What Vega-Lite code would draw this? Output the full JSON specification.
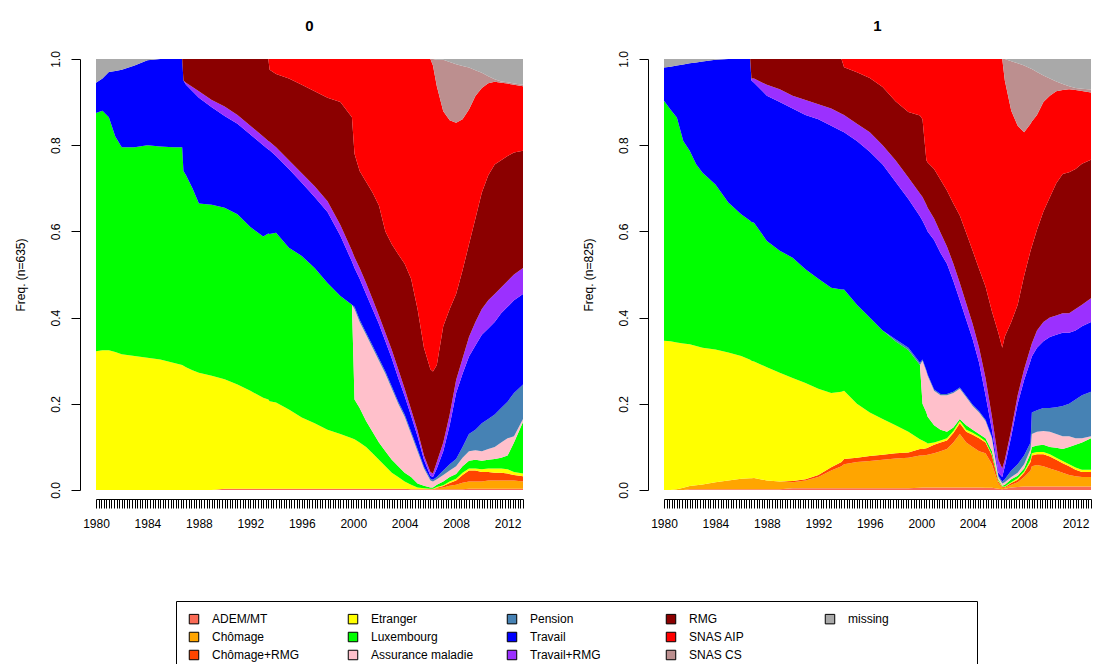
{
"$schema": "https://vega.github.io/schema/vega-lite/v6.json",
"background": "white",
"padding": {"left": 14, "top": 18, "right": 0, "bottom": 0},
"spacing": 58,
"data": {"values": [
{"p":0,"t":1980,"a":0,"b":0,"c":0,"d":0.322,"e":0.553,"f":0,"g":0,"h":0.07,"i":0,"j":0,"k":0,"l":0,"m":0.055},
{"p":0,"t":1980.5,"a":0,"b":0,"c":0,"d":0.324,"e":0.556,"f":0,"g":0,"h":0.075,"i":0,"j":0,"k":0,"l":0,"m":0.045},
{"p":0,"t":1981,"a":0,"b":0,"c":0,"d":0.324,"e":0.541,"f":0,"g":0,"h":0.105,"i":0,"j":0,"k":0,"l":0,"m":0.03},
{"p":0,"t":1981.5,"a":0,"b":0,"c":0,"d":0.32,"e":0.5,"f":0,"g":0,"h":0.152,"i":0,"j":0,"k":0,"l":0,"m":0.028},
{"p":0,"t":1982,"a":0,"b":0,"c":0,"d":0.315,"e":0.48,"f":0,"g":0,"h":0.18,"i":0,"j":0,"k":0,"l":0,"m":0.025},
{"p":0,"t":1983,"a":0,"b":0,"c":0,"d":0.311,"e":0.484,"f":0,"g":0,"h":0.19,"i":0,"j":0,"k":0,"l":0,"m":0.015},
{"p":0,"t":1984,"a":0,"b":0,"c":0,"d":0.307,"e":0.493,"f":0,"g":0,"h":0.197,"i":0,"j":0,"k":0,"l":0,"m":0.003},
{"p":0,"t":1985,"a":0,"b":0,"c":0,"d":0.303,"e":0.494,"f":0,"g":0,"h":0.203,"i":0,"j":0,"k":0,"l":0,"m":0},
{"p":0,"t":1986,"a":0,"b":0,"c":0,"d":0.295,"e":0.5,"f":0,"g":0,"h":0.205,"i":0,"j":0,"k":0,"l":0,"m":0},
{"p":0,"t":1986.7,"a":0,"b":0,"c":0,"d":0.29,"e":0.505,"f":0,"g":0,"h":0.205,"i":0,"j":0,"k":0,"l":0,"m":0},
{"p":0,"t":1986.8,"a":0,"b":0,"c":0,"d":0.288,"e":0.452,"f":0,"g":0,"h":0.21,"i":0,"j":0.05,"k":0,"l":0,"m":0},
{"p":0,"t":1987,"a":0,"b":0,"c":0,"d":0.285,"e":0.445,"f":0,"g":0,"h":0.21,"i":0.005,"j":0.055,"k":0,"l":0,"m":0},
{"p":0,"t":1987.5,"a":0,"b":0,"c":0,"d":0.278,"e":0.422,"f":0,"g":0,"h":0.225,"i":0.01,"j":0.065,"k":0,"l":0,"m":0},
{"p":0,"t":1988,"a":0,"b":0,"c":0,"d":0.272,"e":0.393,"f":0,"g":0,"h":0.245,"i":0.015,"j":0.075,"k":0,"l":0,"m":0},
{"p":0,"t":1989,"a":0,"b":0,"c":0,"d":0.265,"e":0.397,"f":0,"g":0,"h":0.226,"i":0.017,"j":0.095,"k":0,"l":0,"m":0},
{"p":0,"t":1990,"a":0.003,"b":0,"c":0,"d":0.254,"e":0.398,"f":0,"g":0,"h":0.213,"i":0.022,"j":0.11,"k":0,"l":0,"m":0},
{"p":0,"t":1991,"a":0.003,"b":0,"c":0,"d":0.242,"e":0.395,"f":0,"g":0,"h":0.21,"i":0.02,"j":0.13,"k":0,"l":0,"m":0},
{"p":0,"t":1992,"a":0.003,"b":0,"c":0,"d":0.227,"e":0.38,"f":0,"g":0,"h":0.215,"i":0.02,"j":0.155,"k":0,"l":0,"m":0},
{"p":0,"t":1993,"a":0.003,"b":0,"c":0,"d":0.211,"e":0.374,"f":0,"g":0,"h":0.212,"i":0.02,"j":0.18,"k":0,"l":0,"m":0},
{"p":0,"t":1993.4,"a":0.003,"b":0,"c":0,"d":0.207,"e":0.385,"f":0,"g":0,"h":0.195,"i":0.02,"j":0.19,"k":0,"l":0,"m":0},
{"p":0,"t":1993.5,"a":0.003,"b":0,"c":0,"d":0.203,"e":0.388,"f":0,"g":0,"h":0.194,"i":0.02,"j":0.167,"k":0.025,"l":0,"m":0},
{"p":0,"t":1994,"a":0.003,"b":0,"c":0,"d":0.2,"e":0.394,"f":0,"g":0,"h":0.178,"i":0.02,"j":0.17,"k":0.035,"l":0,"m":0},
{"p":0,"t":1995,"a":0.003,"b":0,"c":0,"d":0.184,"e":0.375,"f":0,"g":0,"h":0.183,"i":0.02,"j":0.19,"k":0.045,"l":0,"m":0},
{"p":0,"t":1996,"a":0.003,"b":0,"c":0,"d":0.165,"e":0.375,"f":0,"g":0,"h":0.17,"i":0.022,"j":0.205,"k":0.06,"l":0,"m":0},
{"p":0,"t":1997,"a":0.003,"b":0,"c":0,"d":0.152,"e":0.36,"f":0,"g":0,"h":0.165,"i":0.025,"j":0.22,"k":0.075,"l":0,"m":0},
{"p":0,"t":1998,"a":0.003,"b":0,"c":0,"d":0.137,"e":0.34,"f":0,"g":0,"h":0.165,"i":0.025,"j":0.24,"k":0.09,"l":0,"m":0},
{"p":0,"t":1999,"a":0.003,"b":0,"c":0,"d":0.127,"e":0.32,"f":0,"g":0,"h":0.14,"i":0.025,"j":0.285,"k":0.1,"l":0,"m":0},
{"p":0,"t":1999.9,"a":0.003,"b":0,"c":0,"d":0.117,"e":0.31,"f":0,"g":0,"h":0.1,"i":0.025,"j":0.31,"k":0.135,"l":0,"m":0},
{"p":0,"t":2000.1,"a":0.003,"b":0,"c":0,"d":0.115,"e":0.092,"f":0.21,"g":0.005,"h":0.09,"i":0.025,"j":0.24,"k":0.22,"l":0,"m":0},
{"p":0,"t":2000.5,"a":0.003,"b":0,"c":0,"d":0.107,"e":0.08,"f":0.2,"g":0.005,"h":0.095,"i":0.025,"j":0.225,"k":0.26,"l":0,"m":0},
{"p":0,"t":2001,"a":0.003,"b":0,"c":0,"d":0.097,"e":0.06,"f":0.2,"g":0.005,"h":0.09,"i":0.025,"j":0.235,"k":0.285,"l":0,"m":0},
{"p":0,"t":2001.5,"a":0.003,"b":0,"c":0,"d":0.082,"e":0.05,"f":0.195,"g":0.005,"h":0.085,"i":0.023,"j":0.247,"k":0.31,"l":0,"m":0},
{"p":0,"t":2002,"a":0.003,"b":0,"c":0,"d":0.067,"e":0.04,"f":0.19,"g":0.005,"h":0.08,"i":0.02,"j":0.255,"k":0.34,"l":0,"m":0},
{"p":0,"t":2002.5,"a":0.003,"b":0,"c":0,"d":0.052,"e":0.035,"f":0.18,"g":0.005,"h":0.07,"i":0.02,"j":0.235,"k":0.4,"l":0,"m":0},
{"p":0,"t":2003,"a":0.003,"b":0,"c":0,"d":0.037,"e":0.03,"f":0.165,"g":0.005,"h":0.065,"i":0.02,"j":0.245,"k":0.43,"l":0,"m":0},
{"p":0,"t":2003.5,"a":0.003,"b":0,"c":0,"d":0.027,"e":0.025,"f":0.145,"g":0.005,"h":0.055,"i":0.02,"j":0.267,"k":0.453,"l":0,"m":0},
{"p":0,"t":2004,"a":0.003,"b":0,"c":0,"d":0.017,"e":0.02,"f":0.13,"g":0.005,"h":0.043,"i":0.017,"j":0.29,"k":0.475,"l":0,"m":0},
{"p":0,"t":2004.5,"a":0.002,"b":0,"c":0,"d":0.01,"e":0.018,"f":0.1,"g":0.005,"h":0.037,"i":0.015,"j":0.303,"k":0.51,"l":0,"m":0},
{"p":0,"t":2005,"a":0.002,"b":0,"c":0,"d":0.004,"e":0.009,"f":0.075,"g":0.005,"h":0.03,"i":0.013,"j":0.282,"k":0.58,"l":0,"m":0},
{"p":0,"t":2005.5,"a":0.002,"b":0,"c":0,"d":0.002,"e":0.006,"f":0.04,"g":0.004,"h":0.016,"i":0.01,"j":0.25,"k":0.67,"l":0,"m":0},
{"p":0,"t":2006,"a":0.002,"b":0,"c":0,"d":0.001,"e":0.003,"f":0.016,"g":0.004,"h":0.007,"i":0.009,"j":0.238,"k":0.72,"l":0,"m":0},
{"p":0,"t":2006.2,"a":0.002,"b":0,"c":0,"d":0.001,"e":0.003,"f":0.014,"g":0.004,"h":0.006,"i":0.008,"j":0.237,"k":0.71,"l":0.015,"m":0},
{"p":0,"t":2006.5,"a":0.002,"b":0.002,"c":0.001,"d":0.002,"e":0.005,"f":0.013,"g":0.005,"h":0.02,"i":0.015,"j":0.225,"k":0.647,"l":0.061,"m":0.002},
{"p":0,"t":2007,"a":0.002,"b":0.004,"c":0.003,"d":0.002,"e":0.009,"f":0.015,"g":0.01,"h":0.045,"i":0.02,"j":0.27,"k":0.499,"l":0.119,"m":0.002},
{"p":0,"t":2007.5,"a":0.002,"b":0.008,"c":0.006,"d":0.004,"e":0.01,"f":0.015,"g":0.015,"h":0.09,"i":0.025,"j":0.245,"k":0.438,"l":0.135,"m":0.007},
{"p":0,"t":2008,"a":0.002,"b":0.01,"c":0.01,"d":0.004,"e":0.011,"f":0.018,"g":0.017,"h":0.153,"i":0.03,"j":0.2,"k":0.397,"l":0.136,"m":0.012},
{"p":0,"t":2008.5,"a":0.002,"b":0.015,"c":0.018,"d":0.005,"e":0.015,"f":0.02,"g":0.025,"h":0.17,"i":0.035,"j":0.205,"k":0.35,"l":0.124,"m":0.016},
{"p":0,"t":2009,"a":0.003,"b":0.017,"c":0.025,"d":0.005,"e":0.018,"f":0.022,"g":0.04,"h":0.18,"i":0.045,"j":0.215,"k":0.313,"l":0.097,"m":0.02},
{"p":0,"t":2009.5,"a":0.003,"b":0.017,"c":0.025,"d":0.005,"e":0.02,"f":0.022,"g":0.048,"h":0.195,"i":0.055,"j":0.24,"k":0.284,"l":0.06,"m":0.026},
{"p":0,"t":2010,"a":0.003,"b":0.017,"c":0.022,"d":0.006,"e":0.02,"f":0.022,"g":0.065,"h":0.205,"i":0.06,"j":0.27,"k":0.243,"l":0.035,"m":0.032},
{"p":0,"t":2010.5,"a":0.003,"b":0.019,"c":0.02,"d":0.008,"e":0.02,"f":0.025,"g":0.07,"h":0.21,"i":0.065,"j":0.29,"k":0.214,"l":0.016,"m":0.04},
{"p":0,"t":2011,"a":0.003,"b":0.019,"c":0.018,"d":0.01,"e":0.022,"f":0.028,"g":0.075,"h":0.215,"i":0.065,"j":0.3,"k":0.192,"l":0.006,"m":0.047},
{"p":0,"t":2011.5,"a":0.003,"b":0.019,"c":0.018,"d":0.01,"e":0.025,"f":0.035,"g":0.08,"h":0.22,"i":0.06,"j":0.295,"k":0.18,"l":0.003,"m":0.052},
{"p":0,"t":2012,"a":0.003,"b":0.019,"c":0.016,"d":0.01,"e":0.032,"f":0.04,"g":0.085,"h":0.22,"i":0.06,"j":0.29,"k":0.168,"l":0.003,"m":0.054},
{"p":0,"t":2012.5,"a":0.003,"b":0.019,"c":0.013,"d":0.007,"e":0.068,"f":0.015,"g":0.1,"h":0.215,"i":0.06,"j":0.283,"k":0.157,"l":0.003,"m":0.057},
{"p":0,"t":2013.2,"a":0.003,"b":0.017,"c":0.012,"d":0.006,"e":0.12,"f":0.007,"g":0.08,"h":0.21,"i":0.06,"j":0.272,"k":0.15,"l":0.003,"m":0.06},
{"p":1,"t":1980,"a":0,"b":0,"c":0,"d":0.346,"e":0.557,"f":0,"g":0,"h":0.077,"i":0,"j":0,"k":0,"l":0,"m":0.02},
{"p":1,"t":1980.5,"a":0,"b":0,"c":0,"d":0.345,"e":0.538,"f":0,"g":0,"h":0.099,"i":0,"j":0,"k":0,"l":0,"m":0.018},
{"p":1,"t":1981,"a":0,"b":0.002,"c":0,"d":0.34,"e":0.522,"f":0,"g":0,"h":0.121,"i":0,"j":0,"k":0,"l":0,"m":0.015},
{"p":1,"t":1981.5,"a":0,"b":0.005,"c":0,"d":0.335,"e":0.47,"f":0,"g":0,"h":0.177,"i":0,"j":0,"k":0,"l":0,"m":0.013},
{"p":1,"t":1982,"a":0.002,"b":0.007,"c":0,"d":0.329,"e":0.449,"f":0,"g":0,"h":0.203,"i":0,"j":0,"k":0,"l":0,"m":0.01},
{"p":1,"t":1982.5,"a":0.002,"b":0.009,"c":0,"d":0.323,"e":0.422,"f":0,"g":0,"h":0.236,"i":0,"j":0,"k":0,"l":0,"m":0.008},
{"p":1,"t":1983,"a":0.002,"b":0.011,"c":0,"d":0.317,"e":0.406,"f":0,"g":0,"h":0.258,"i":0,"j":0,"k":0,"l":0,"m":0.006},
{"p":1,"t":1984,"a":0.002,"b":0.016,"c":0,"d":0.308,"e":0.383,"f":0,"g":0,"h":0.289,"i":0,"j":0,"k":0,"l":0,"m":0.002},
{"p":1,"t":1985,"a":0.002,"b":0.02,"c":0,"d":0.297,"e":0.348,"f":0,"g":0,"h":0.333,"i":0,"j":0,"k":0,"l":0,"m":0},
{"p":1,"t":1986,"a":0.002,"b":0.024,"c":0,"d":0.285,"e":0.329,"f":0,"g":0,"h":0.36,"i":0,"j":0,"k":0,"l":0,"m":0},
{"p":1,"t":1986.7,"a":0.002,"b":0.025,"c":0,"d":0.275,"e":0.323,"f":0,"g":0,"h":0.375,"i":0,"j":0,"k":0,"l":0,"m":0},
{"p":1,"t":1986.8,"a":0.002,"b":0.025,"c":0,"d":0.273,"e":0.322,"f":0,"g":0,"h":0.328,"i":0.005,"j":0.045,"k":0,"l":0,"m":0},
{"p":1,"t":1987,"a":0.002,"b":0.026,"c":0,"d":0.27,"e":0.322,"f":0,"g":0,"h":0.325,"i":0.01,"j":0.045,"k":0,"l":0,"m":0},
{"p":1,"t":1988,"a":0.002,"b":0.02,"c":0,"d":0.263,"e":0.293,"f":0,"g":0,"h":0.337,"i":0.025,"j":0.06,"k":0,"l":0,"m":0},
{"p":1,"t":1989,"a":0.002,"b":0.018,"c":0,"d":0.252,"e":0.283,"f":0,"g":0,"h":0.345,"i":0.03,"j":0.07,"k":0,"l":0,"m":0},
{"p":1,"t":1990,"a":0.004,"b":0.014,"c":0.003,"d":0.239,"e":0.279,"f":0,"g":0,"h":0.346,"i":0.03,"j":0.085,"k":0,"l":0,"m":0},
{"p":1,"t":1991,"a":0.004,"b":0.018,"c":0.003,"d":0.223,"e":0.264,"f":0,"g":0,"h":0.358,"i":0.035,"j":0.095,"k":0,"l":0,"m":0},
{"p":1,"t":1992,"a":0.004,"b":0.026,"c":0.005,"d":0.2,"e":0.255,"f":0,"g":0,"h":0.37,"i":0.035,"j":0.105,"k":0,"l":0,"m":0},
{"p":1,"t":1993,"a":0.004,"b":0.041,"c":0.008,"d":0.172,"e":0.244,"f":0,"g":0,"h":0.376,"i":0.04,"j":0.115,"k":0,"l":0,"m":0},
{"p":1,"t":1993.8,"a":0.004,"b":0.051,"c":0.01,"d":0.163,"e":0.237,"f":0,"g":0,"h":0.368,"i":0.04,"j":0.127,"k":0,"l":0,"m":0},
{"p":1,"t":1994,"a":0.004,"b":0.056,"c":0.012,"d":0.158,"e":0.235,"f":0,"g":0,"h":0.365,"i":0.04,"j":0.111,"k":0.019,"l":0,"m":0},
{"p":1,"t":1995,"a":0.004,"b":0.061,"c":0.01,"d":0.125,"e":0.23,"f":0,"g":0,"h":0.38,"i":0.04,"j":0.119,"k":0.031,"l":0,"m":0},
{"p":1,"t":1996,"a":0.004,"b":0.063,"c":0.012,"d":0.101,"e":0.22,"f":0,"g":0,"h":0.385,"i":0.045,"j":0.126,"k":0.044,"l":0,"m":0},
{"p":1,"t":1997,"a":0.004,"b":0.066,"c":0.012,"d":0.083,"e":0.205,"f":0,"g":0,"h":0.385,"i":0.045,"j":0.135,"k":0.065,"l":0,"m":0},
{"p":1,"t":1998,"a":0.004,"b":0.069,"c":0.012,"d":0.065,"e":0.195,"f":0,"g":0.005,"h":0.365,"i":0.05,"j":0.137,"k":0.098,"l":0,"m":0},
{"p":1,"t":1999,"a":0.004,"b":0.071,"c":0.012,"d":0.048,"e":0.19,"f":0,"g":0.005,"h":0.345,"i":0.05,"j":0.152,"k":0.123,"l":0,"m":0},
{"p":1,"t":1999.9,"a":0.005,"b":0.075,"c":0.015,"d":0.023,"e":0.172,"f":0,"g":0.005,"h":0.34,"i":0.053,"j":0.181,"k":0.131,"l":0,"m":0},
{"p":1,"t":2000.1,"a":0.006,"b":0.074,"c":0.015,"d":0.02,"e":0.085,"f":0.1,"g":0.003,"h":0.322,"i":0.055,"j":0.18,"k":0.14,"l":0,"m":0},
{"p":1,"t":2000.4,"a":0.006,"b":0.075,"c":0.016,"d":0.013,"e":0.07,"f":0.095,"g":0.003,"h":0.329,"i":0.055,"j":0.103,"k":0.235,"l":0,"m":0},
{"p":1,"t":2000.5,"a":0.006,"b":0.076,"c":0.016,"d":0.01,"e":0.062,"f":0.095,"g":0.003,"h":0.332,"i":0.055,"j":0.105,"k":0.24,"l":0,"m":0},
{"p":1,"t":2001,"a":0.006,"b":0.079,"c":0.02,"d":0.005,"e":0.04,"f":0.08,"g":0.003,"h":0.347,"i":0.05,"j":0.115,"k":0.255,"l":0,"m":0},
{"p":1,"t":2001.5,"a":0.006,"b":0.084,"c":0.02,"d":0.005,"e":0.025,"f":0.08,"g":0.003,"h":0.327,"i":0.047,"j":0.123,"k":0.28,"l":0,"m":0},
{"p":1,"t":2002,"a":0.006,"b":0.089,"c":0.02,"d":0.005,"e":0.015,"f":0.085,"g":0.003,"h":0.302,"i":0.04,"j":0.13,"k":0.305,"l":0,"m":0},
{"p":1,"t":2002.5,"a":0.006,"b":0.104,"c":0.022,"d":0.005,"e":0.008,"f":0.08,"g":0.003,"h":0.257,"i":0.04,"j":0.14,"k":0.335,"l":0,"m":0},
{"p":1,"t":2003,"a":0.006,"b":0.124,"c":0.025,"d":0.005,"e":0.005,"f":0.07,"g":0.003,"h":0.202,"i":0.04,"j":0.157,"k":0.363,"l":0,"m":0},
{"p":1,"t":2003.5,"a":0.006,"b":0.104,"c":0.025,"d":0.005,"e":0.01,"f":0.065,"g":0.003,"h":0.177,"i":0.038,"j":0.163,"k":0.404,"l":0,"m":0},
{"p":1,"t":2004,"a":0.006,"b":0.094,"c":0.028,"d":0.005,"e":0.007,"f":0.055,"g":0.003,"h":0.152,"i":0.035,"j":0.17,"k":0.445,"l":0,"m":0},
{"p":1,"t":2004.5,"a":0.006,"b":0.084,"c":0.03,"d":0.004,"e":0.006,"f":0.05,"g":0.003,"h":0.112,"i":0.035,"j":0.183,"k":0.487,"l":0,"m":0},
{"p":1,"t":2005,"a":0.005,"b":0.08,"c":0.025,"d":0.003,"e":0.007,"f":0.04,"g":0.003,"h":0.057,"i":0.04,"j":0.212,"k":0.528,"l":0,"m":0},
{"p":1,"t":2005.5,"a":0.005,"b":0.055,"c":0.02,"d":0.002,"e":0.008,"f":0.03,"g":0.003,"h":0.017,"i":0.03,"j":0.244,"k":0.586,"l":0,"m":0},
{"p":1,"t":2006,"a":0.003,"b":0.012,"c":0.005,"d":0.002,"e":0.003,"f":0.005,"g":0.003,"h":0.007,"i":0.03,"j":0.294,"k":0.636,"l":0,"m":0},
{"p":1,"t":2006.3,"a":0.002,"b":0.003,"c":0.002,"d":0.001,"e":0.002,"f":0.005,"g":0.005,"h":0.01,"i":0.02,"j":0.28,"k":0.67,"l":0,"m":0},
{"p":1,"t":2006.5,"a":0.003,"b":0.002,"c":0.002,"d":0.001,"e":0.004,"f":0.006,"g":0.007,"h":0.03,"i":0.015,"j":0.286,"k":0.594,"l":0.05,"m":0},
{"p":1,"t":2007,"a":0.006,"b":0.006,"c":0.004,"d":0.002,"e":0.007,"f":0.005,"g":0.015,"h":0.08,"i":0.015,"j":0.25,"k":0.49,"l":0.115,"m":0.005},
{"p":1,"t":2007.5,"a":0.007,"b":0.011,"c":0.006,"d":0.003,"e":0.006,"f":0.007,"g":0.02,"h":0.14,"i":0.02,"j":0.21,"k":0.415,"l":0.145,"m":0.01},
{"p":1,"t":2008,"a":0.008,"b":0.022,"c":0.01,"d":0.003,"e":0.007,"f":0.01,"g":0.02,"h":0.175,"i":0.025,"j":0.217,"k":0.333,"l":0.155,"m":0.015},
{"p":1,"t":2008.5,"a":0.008,"b":0.037,"c":0.02,"d":0.005,"e":0.015,"f":0.01,"g":0.015,"h":0.19,"i":0.03,"j":0.225,"k":0.295,"l":0.128,"m":0.022},
{"p":1,"t":2008.6,"a":0.008,"b":0.047,"c":0.025,"d":0.005,"e":0.015,"f":0.03,"g":0.05,"h":0.13,"i":0.03,"j":0.225,"k":0.29,"l":0.122,"m":0.023},
{"p":1,"t":2009,"a":0.008,"b":0.05,"c":0.025,"d":0.005,"e":0.015,"f":0.032,"g":0.05,"h":0.145,"i":0.04,"j":0.234,"k":0.266,"l":0.1,"m":0.03},
{"p":1,"t":2009.5,"a":0.008,"b":0.047,"c":0.028,"d":0.005,"e":0.017,"f":0.032,"g":0.053,"h":0.155,"i":0.045,"j":0.256,"k":0.254,"l":0.062,"m":0.038},
{"p":1,"t":2010,"a":0.008,"b":0.042,"c":0.028,"d":0.005,"e":0.017,"f":0.035,"g":0.055,"h":0.165,"i":0.045,"j":0.279,"k":0.236,"l":0.04,"m":0.045},
{"p":1,"t":2010.5,"a":0.008,"b":0.037,"c":0.025,"d":0.005,"e":0.023,"f":0.032,"g":0.062,"h":0.168,"i":0.045,"j":0.307,"k":0.213,"l":0.023,"m":0.052},
{"p":1,"t":2011,"a":0.008,"b":0.032,"c":0.022,"d":0.005,"e":0.028,"f":0.03,"g":0.07,"h":0.17,"i":0.045,"j":0.323,"k":0.195,"l":0.014,"m":0.058},
{"p":1,"t":2011.5,"a":0.008,"b":0.027,"c":0.02,"d":0.005,"e":0.04,"f":0.025,"g":0.075,"h":0.165,"i":0.045,"j":0.327,"k":0.193,"l":0.007,"m":0.063},
{"p":1,"t":2012,"a":0.008,"b":0.024,"c":0.015,"d":0.005,"e":0.053,"f":0.015,"g":0.09,"h":0.16,"i":0.05,"j":0.325,"k":0.183,"l":0.005,"m":0.067},
{"p":1,"t":2012.5,"a":0.008,"b":0.022,"c":0.012,"d":0.005,"e":0.063,"f":0.01,"g":0.1,"h":0.16,"i":0.05,"j":0.327,"k":0.169,"l":0.005,"m":0.069},
{"p":1,"t":2013.2,"a":0.008,"b":0.022,"c":0.012,"d":0.005,"e":0.073,"f":0.005,"g":0.103,"h":0.162,"i":0.055,"j":0.321,"k":0.156,"l":0.007,"m":0.071}
]},
"hconcat": [
{
 "width": 427, "height": 431,
 "title": {"text": "0", "offset": 17, "anchor": "middle", "frame": "group"},
 "transform": [{"filter": "datum.p == 0"}, {"fold": ["a","b","c","d","e","f","g","h","i","j","k","l","m"], "as": ["s","v"]}],
 "mark": {"type": "area", "interpolate": "linear"},
 "encoding": {
  "x": {"field": "t", "type": "quantitative", "scale": {"domain": [1980, 2013.2], "nice": false, "zero": false},
        "axis": {"title": null, "offset": 9, "tickCount": 166, "tickSize": 9, "labelPadding": 10, "labelOverlap": false, "labelFlush": false, "labelBound": false,
                 "labelExpr": "abs(datum.value - round(datum.value)) < 0.01 && round(datum.value) % 4 == 0 ? '' + round(datum.value) : ''"}},
  "y": {"field": "v", "type": "quantitative", "stack": "normalize", "scale": {"domain": [0, 1], "nice": false},
        "axis": {"title": "Freq. (n=635)", "values": [0, 0.2, 0.4, 0.6, 0.8, 1], "labelExpr": "format(datum.value, '.1f')", "offset": 16, "tickSize": 9, "labelPadding": 9, "labelAngle": 270, "labelAlign": "center", "labelBaseline": "bottom", "titlePadding": 22,
                 "encode": {"labels": {"update": {"angle": {"value": 270}, "align": {"value": "center"}, "baseline": {"value": "bottom"}}}}}},
  "color": {"field": "s", "type": "nominal",
    "scale": {"domain": ["a","d","g","j","m","b","e","h","k","n","c","f","i","l","o"],
              "range": ["#FA6A55","#FFFF00","#4682B4","#8B0000","#A9A9A9","#FFA500","#00FF00","#0000FF","#FF0000","#FFFFFF","#FF4500","#FFC0CB","#9B30FF","#BC8F8F","#FFFFFF"]},
    "legend": {"orient": "none", "legendX": 80, "legendY": 542, "title": null, "direction": "horizontal", "columns": 5,
               "symbolType": "square", "symbolSize": 90, "labelFontSize": 12, "labelColor": "#000", "labelOffset": 12, "labelLimit": 250,
               "rowPadding": 4, "columnPadding": 17, "gridAlign": "all", "padding": 12, "strokeColor": "#000", "fillColor": "#fff",
               "labelExpr": "['ADEM/MT','Chômage','Chômage+RMG','Etranger','Luxembourg','Assurance maladie','Pension','Travail','Travail+RMG','RMG','SNAS AIP','SNAS CS','missing','\u2800\u2800\u2800\u2800\u2800\u2800\u2800\u2800\u2800\u2800\u2800\u2800\u2800',''][indexof(['a','b','c','d','e','f','g','h','i','j','k','l','m','n','o'], datum.value)]",
               "encode": {"symbols": {"update": {"stroke": {"value": "#000"}, "strokeWidth": {"value": 1}, "opacity": {"signal": "datum.value == 'n' || datum.value == 'o' ? 0 : 1"}}}}}},
  "order": {"field": "s", "type": "ordinal", "sort": "ascending"}
 }
},
{
 "width": 427, "height": 431,
 "title": {"text": "1", "offset": 17, "anchor": "middle", "frame": "group"},
 "transform": [{"filter": "datum.p == 1"}, {"fold": ["a","b","c","d","e","f","g","h","i","j","k","l","m"], "as": ["s","v"]}],
 "mark": {"type": "area", "interpolate": "linear"},
 "encoding": {
  "x": {"field": "t", "type": "quantitative", "scale": {"domain": [1980, 2013.2], "nice": false, "zero": false},
        "axis": {"title": null, "offset": 9, "tickCount": 166, "tickSize": 9, "labelPadding": 10, "labelOverlap": false, "labelFlush": false, "labelBound": false,
                 "labelExpr": "abs(datum.value - round(datum.value)) < 0.01 && round(datum.value) % 4 == 0 ? '' + round(datum.value) : ''"}},
  "y": {"field": "v", "type": "quantitative", "stack": "normalize", "scale": {"domain": [0, 1], "nice": false},
        "axis": {"title": "Freq. (n=825)", "values": [0, 0.2, 0.4, 0.6, 0.8, 1], "labelExpr": "format(datum.value, '.1f')", "offset": 16, "tickSize": 9, "labelPadding": 9, "labelAngle": 270, "labelAlign": "center", "labelBaseline": "bottom", "titlePadding": 22,
                 "encode": {"labels": {"update": {"angle": {"value": 270}, "align": {"value": "center"}, "baseline": {"value": "bottom"}}}}}},
  "color": {"field": "s", "type": "nominal",
    "scale": {"domain": ["a","d","g","j","m","b","e","h","k","n","c","f","i","l","o"],
              "range": ["#FA6A55","#FFFF00","#4682B4","#8B0000","#A9A9A9","#FFA500","#00FF00","#0000FF","#FF0000","#FFFFFF","#FF4500","#FFC0CB","#9B30FF","#BC8F8F","#FFFFFF"]},
    "legend": {"orient": "none", "legendX": 80, "legendY": 542, "title": null, "direction": "horizontal", "columns": 5,
               "symbolType": "square", "symbolSize": 90, "labelFontSize": 12, "labelColor": "#000", "labelOffset": 12, "labelLimit": 250,
               "rowPadding": 4, "columnPadding": 17, "gridAlign": "all", "padding": 12, "strokeColor": "#000", "fillColor": "#fff",
               "labelExpr": "['ADEM/MT','Chômage','Chômage+RMG','Etranger','Luxembourg','Assurance maladie','Pension','Travail','Travail+RMG','RMG','SNAS AIP','SNAS CS','missing','\u2800\u2800\u2800\u2800\u2800\u2800\u2800\u2800\u2800\u2800\u2800\u2800\u2800',''][indexof(['a','b','c','d','e','f','g','h','i','j','k','l','m','n','o'], datum.value)]",
               "encode": {"symbols": {"update": {"stroke": {"value": "#000"}, "strokeWidth": {"value": 1}, "opacity": {"signal": "datum.value == 'n' || datum.value == 'o' ? 0 : 1"}}}}}},
  "order": {"field": "s", "type": "ordinal", "sort": "ascending"}
 }
}
],
"config": {
 "font": "Liberation Sans",
 "view": {"stroke": null},
 "axis": {"domainColor": "#000", "tickColor": "#000", "labelColor": "#000", "titleColor": "#000", "grid": false, "labelFontSize": 12, "titleFontSize": 12, "titleFontWeight": "normal", "domainWidth": 1, "tickWidth": 1, "labelFont": "Liberation Sans", "titleFont": "Liberation Sans"},
 "title": {"fontSize": 15, "fontWeight": "bold", "color": "#000", "font": "Liberation Sans"},
 "legend": {"labelFont": "Liberation Sans"}
}
}
